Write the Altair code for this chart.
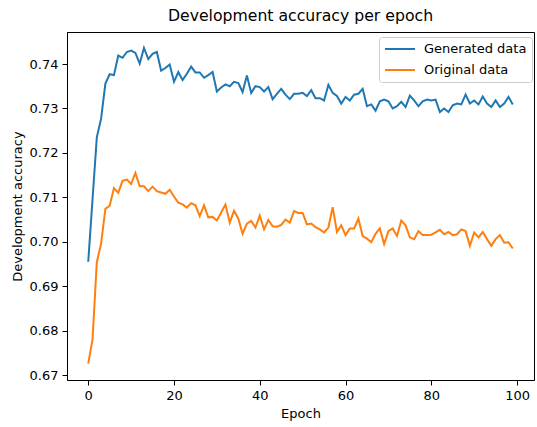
import altair as alt
import pandas as pd

# Development-set accuracy recorded after every training epoch
epochs = list(range(100))

generated_acc = [
    0.6955, 0.7095, 0.7235, 0.7277, 0.7356, 0.7377, 0.7375, 0.7419, 0.7414, 0.7427,
    0.7430, 0.7425, 0.7401, 0.7436, 0.7411, 0.7423, 0.7427, 0.7385, 0.7391, 0.7399,
    0.7360, 0.7382, 0.7364, 0.7378, 0.7394, 0.7381, 0.7381, 0.7369, 0.7375, 0.7382,
    0.7338, 0.7347, 0.7354, 0.7350, 0.7360, 0.7357, 0.7337, 0.7374, 0.7335, 0.7350,
    0.7348, 0.7338, 0.7348, 0.7321, 0.7333, 0.7344, 0.7331, 0.7321, 0.7333, 0.7333,
    0.7335, 0.7328, 0.7341, 0.7323, 0.7323, 0.7318, 0.7353, 0.7335, 0.7328, 0.7311,
    0.7326, 0.7318, 0.7331, 0.7333, 0.7344, 0.7305, 0.7309, 0.7295, 0.7316, 0.7320,
    0.7316, 0.7300, 0.7305, 0.7315, 0.7303, 0.7329, 0.7318, 0.7305, 0.7316, 0.7320,
    0.7318, 0.7320, 0.7292, 0.7300, 0.7292, 0.7307, 0.7311, 0.7309, 0.7331, 0.7311,
    0.7318, 0.7309, 0.7327, 0.7311, 0.7303, 0.7318, 0.7303, 0.7311, 0.7326, 0.7309,
]

original_acc = [
    0.6726, 0.6780, 0.6954, 0.6996, 0.7074, 0.7081, 0.7121, 0.7110, 0.7137, 0.7140,
    0.7130, 0.7155, 0.7125, 0.7125, 0.7114, 0.7124, 0.7114, 0.7111, 0.7108, 0.7117,
    0.7102, 0.7088, 0.7084, 0.7077, 0.7087, 0.7082, 0.7058, 0.7082, 0.7055, 0.7056,
    0.7048, 0.7066, 0.7084, 0.7043, 0.7070, 0.7052, 0.7018, 0.7041, 0.7047, 0.7032,
    0.7059, 0.7028, 0.7049, 0.7035, 0.7034, 0.7038, 0.7050, 0.7043, 0.7069, 0.7065,
    0.7065, 0.7039, 0.7041, 0.7033, 0.7028, 0.7021, 0.7032, 0.7078, 0.7022, 0.7037,
    0.7015, 0.7030, 0.7030, 0.7052, 0.7013, 0.7007, 0.6999, 0.7018, 0.7030, 0.6995,
    0.7024, 0.7030, 0.7013, 0.7048, 0.7037, 0.7010, 0.7006, 0.7024, 0.7015, 0.7015,
    0.7016, 0.7021, 0.7027, 0.7017, 0.7022, 0.7015, 0.7017, 0.7028, 0.7024, 0.6991,
    0.7021, 0.7010, 0.7022, 0.7006, 0.6991, 0.7006, 0.7015, 0.6998, 0.6999, 0.6985,
]

series_names = ["Generated data", "Original data"]
series_colors = ["#1f77b4", "#ff7f0e"]

x_ticks = [0, 20, 40, 60, 80, 100]
y_ticks = [0.67, 0.68, 0.69, 0.70, 0.71, 0.72, 0.73, 0.74]

df = pd.DataFrame({
    "Epoch": epochs + epochs,
    "Accuracy": generated_acc + original_acc,
    "Series": [series_names[0]] * len(epochs) + [series_names[1]] * len(epochs),
})

FONT = "DejaVu Sans"

# Legend handle: a long horizontal stroke drawn from a small symbol size so
# that the legend rows stay compact.
HANDLE_PATH = "M-1,0H4"

chart = (
    alt.Chart(df)
    .mark_line(strokeWidth=2)
    .encode(
        x=alt.X(
            "Epoch:Q",
            scale=alt.Scale(domain=[-4.95, 103.95], nice=False, zero=False),
            axis=alt.Axis(values=x_ticks, title="Epoch", format="d"),
        ),
        y=alt.Y(
            "Accuracy:Q",
            scale=alt.Scale(domain=[0.6689, 0.7472], nice=False, zero=False),
            axis=alt.Axis(values=y_ticks, format=".2f", title="Development accuracy"),
        ),
        color=alt.Color(
            "Series:N",
            scale=alt.Scale(domain=series_names, range=series_colors),
            legend=alt.Legend(
                title=None,
                orient="none",
                legendX=312,
                legendY=5,
                symbolType=HANDLE_PATH,
                symbolSize=144,
                symbolStrokeWidth=2,
                labelFont=FONT,
                labelFontSize=13,
                labelColor="black",
                labelOffset=26,
                padding=5,
                rowPadding=7,
                fillColor="white",
                strokeColor="#cccccc",
                cornerRadius=3,
            ),
        ),
    )
    .properties(
        width=467,
        height=348,
        autosize=alt.AutoSizeParams(type="none"),
        padding={"left": 67, "top": 32, "right": 3, "bottom": 47},
        title=alt.TitleParams(
            "Development accuracy per epoch",
            font=FONT,
            fontSize=15.7,
            fontWeight="normal",
            color="black",
            anchor="middle",
            offset=7,
        ),
    )
    .configure_view(stroke="black", strokeWidth=1)
    .configure_axis(
        grid=False,
        domainColor="black",
        domainWidth=1,
        tickColor="black",
        tickWidth=1,
        tickSize=5,
        labelFont=FONT,
        labelFontSize=13,
        labelColor="black",
        labelPadding=4,
        titleFont=FONT,
        titleFontSize=13,
        titleFontWeight="normal",
        titleColor="black",
        titlePadding=5,
    )
)

chart.save("out.html", embed_options={"renderer": "svg", "actions": False})
